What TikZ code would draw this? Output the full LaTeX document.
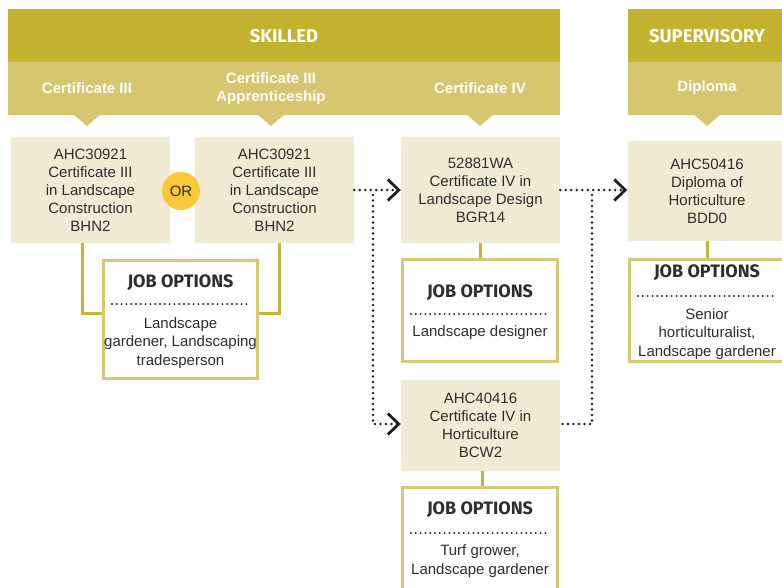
\documentclass[tikz,border=0pt]{standalone}
\usepackage{fontspec}
\setmainfont{Liberation Sans}
\newfontfamily\headfont{Fira Sans}
\usetikzlibrary{arrows.meta}
\definecolor{hdark}{HTML}{C4B22E}
\definecolor{hlight}{HTML}{D5C66F}
\definecolor{boxfill}{HTML}{F2EBD3}
\definecolor{jobborder}{HTML}{D6C874}
\definecolor{goldline}{HTML}{C6B438}
\definecolor{orfill}{HTML}{FFC73A}
\definecolor{txt}{HTML}{2E2E2E}
\tikzset{
  band/.style={font=\headfont\bfseries\fontsize{18.5}{22}\selectfont, text=white},
  sublabel/.style={font=\bfseries\fontsize{15}{18}\selectfont, text=white, align=center},
  qual/.style={fill=boxfill, minimum width=159pt, inner sep=0pt, align=center,
    font=\fontsize{15}{18}\selectfont, text=txt},
  jobbox/.style={draw=jobborder, line width=3pt, fill=white, inner sep=0pt},
  jobtitle/.style={font=\headfont\bfseries\fontsize{18}{21}\selectfont, text=txt},
  jobtext/.style={font=\fontsize{15}{18.5}\selectfont, text=txt, align=center},
  jobrule/.style={draw=txt, line width=2.2pt, dash pattern=on 0pt off 4.8pt, line cap=round},
  goldconn/.style={draw=goldline, line width=3pt},
  dotconn/.style={draw=black!88, line width=2.7pt, dash pattern=on 0pt off 5.5pt, line cap=round},
  chev/.style={-{Straight Barb[length=11pt,width=21pt,line width=2.8pt]}},
  pointer/.style={fill=hlight}
}
\begin{document}
\begin{tikzpicture}[x=1pt,y=-1pt]
\useasboundingbox (0,0) rectangle (782,587);
\clip (0,0) rectangle (782,587);
% header bands
\fill[hdark] (8,9) rectangle (560,62);
\fill[hlight] (8,62) rectangle (560,115);
\fill[hdark] (628,9) rectangle (795,62);
\fill[hlight] (628,62) rectangle (795,115);
\foreach \px in {87,271,480,707}{
  \fill[pointer] (\px-14,114) -- (\px+14,114) -- (\px,126) -- cycle;
}
\node[band] (skilled) at (284,36) {SKILLED};
\node[band] (superv) at (707,36) {SUPERVISORY};
\node[sublabel] (h1) at (87,88) {Certificate III};
\node[sublabel] (h2) at (271,89) {Certificate III\\Apprenticeship};
\node[sublabel] (h3) at (480,88) {Certificate IV};
\node[sublabel] (h4) at (707,88) {Diploma};
% qualification boxes
\node[qual, minimum height=106pt] (b1) at (90.5,190) {AHC30921\\Certificate III\\in Landscape\\Construction\\BHN2};
\node[qual, minimum height=106pt] (b2) at (274.5,190) {AHC30921\\Certificate III\\in Landscape\\Construction\\BHN2};
\node[circle, fill=orfill, minimum size=38pt, inner sep=0pt, font=\fontsize{15}{18}\selectfont, text=txt] (or) at (181,191) {OR};
\node[qual, minimum height=106pt] (b3) at (480.5,190) {52881WA\\Certificate IV in\\Landscape Design\\BGR14};
\node[qual, minimum height=91pt] (b4) at (480.5,425.5) {AHC40416\\Certificate IV in\\Horticulture\\BCW2};
\node[qual, minimum height=100pt] (b5) at (707,191) {AHC50416\\Diploma of\\Horticulture\\BDD0};
% job option boxes
\node[jobbox, minimum width=154pt, minimum height=118pt] (j1) at (180.5,319.5) {};
\node[jobbox, minimum width=155pt, minimum height=102pt] (j2) at (480,310.5) {};
\node[jobbox, minimum width=155pt, minimum height=103pt] (j3) at (480,539) {};
\node[jobbox, minimum width=155pt, minimum height=102pt] (j4) at (707,310.5) {};
\node[jobtitle] (t1) at (180.5,283) {JOB OPTIONS};
\node[jobtitle] (t2) at (480,293) {JOB OPTIONS};
\node[jobtitle] (t3) at (480,510) {JOB OPTIONS};
\node[jobtitle] (t4) at (707,273) {JOB OPTIONS};
\draw[jobrule] (112,304) -- (251,304);
\draw[jobrule] (411,314) -- (550,314);
\draw[jobrule] (411,533) -- (550,533);
\draw[jobrule] (638,296) -- (777,296);
\node[jobtext] (o1) at (180.5,343) {Landscape\\gardener, Landscaping\\tradesperson};
\node[jobtext] (o2) at (480,333) {Landscape designer};
\node[jobtext] (o3) at (480,561) {Turf grower,\\Landscape gardener};
\node[jobtext] (o4) at (707,334) {Senior\\horticulturalist,\\Landscape gardener};
% gold connectors
\coordinate (c1) at (82,313);
\coordinate (c2) at (279,313);
\draw[goldconn] (b1.south -| c1) -- (c1) -- (c1 -| j1.west);
\draw[goldconn] (b2.south -| c2) -- (c2) -- (c2 -| j1.east);
\draw[goldconn] (j2.north |- b3.south) -- (j2.north);
\coordinate (c3) at (482,0);
\draw[goldconn] (c3 |- b4.south) -- (c3 |- j3.north);
\draw[goldconn] (j4.north |- b5.south) -- (j4.north);
% dotted progression connectors
\draw[dotconn, chev] (b2.east) -- (b3.west);
\coordinate (v1) at (373,195);
\draw[dotconn, chev] (v1) -- (v1 |- 0,424) -- (b4.west |- 0,424);
\draw[dotconn, chev] (b3.east) -- (b3.east -| b5.west);
\coordinate (v2) at (592,195);
\draw[dotconn] (v2) -- (v2 |- 0,424) -- (b4.east |- 0,424);
\end{tikzpicture}
\end{document}
